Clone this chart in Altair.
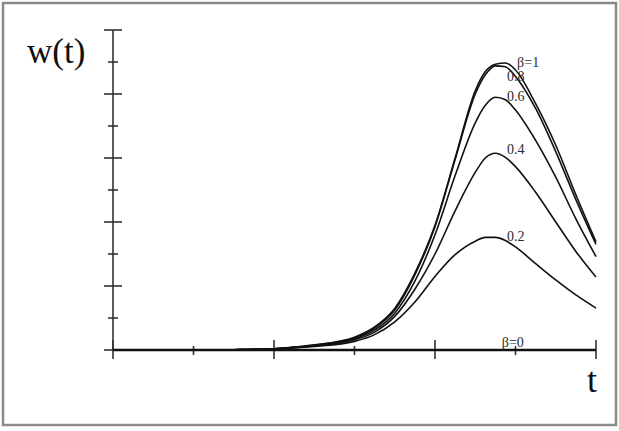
import altair as alt
import pandas as pd

# ---- data ----
t_vals = [0, 0.5, 1, 1.5, 2, 2.5, 3, 3.25, 3.5, 3.75, 4, 4.25, 4.5, 4.625, 4.75, 4.875, 5, 5.25, 5.5, 5.75, 6]
w_b10 = [0, 0, 0, 0.01, 0.04, 0.16, 0.40, 0.72, 1.30, 2.40, 3.90, 6.00, 8.10, 8.70, 8.93, 8.97, 8.75, 7.70, 6.40, 4.85, 3.38]
w_b08 = [0, 0, 0, 0.01, 0.04, 0.15, 0.38, 0.68, 1.25, 2.35, 3.85, 5.95, 8.00, 8.60, 8.88, 8.85, 8.55, 7.55, 6.20, 4.70, 3.30]
w_b06 = [0, 0, 0, 0.01, 0.04, 0.14, 0.35, 0.62, 1.15, 2.15, 3.60, 5.45, 7.10, 7.65, 7.90, 7.82, 7.50, 6.55, 5.40, 4.10, 2.92]
w_b04 = [0, 0, 0, 0.01, 0.04, 0.13, 0.32, 0.56, 1.05, 1.90, 3.00, 4.35, 5.55, 6.00, 6.15, 6.02, 5.73, 4.93, 4.00, 3.08, 2.28]
w_b02 = [0, 0, 0, 0.01, 0.03, 0.11, 0.27, 0.48, 0.88, 1.50, 2.30, 2.98, 3.40, 3.52, 3.52, 3.42, 3.22, 2.70, 2.19, 1.72, 1.31]
w_b00 = [0] * len(t_vals)

series = {"1": w_b10, "0.8": w_b08, "0.6": w_b06, "0.4": w_b04, "0.2": w_b02, "0": w_b00}

label_text = ["β=1", "0.8", "0.6", "0.4", "0.2", "β=0"]
label_t = [5.02, 4.894, 4.894, 4.894, 4.894, 4.83]
label_w = [8.97, 8.53, 7.90, 6.25, 3.53, 0.22]

y_major = [0, 2, 4, 6, 8, 10]
y_minor = [1, 3, 5, 7, 9]
x_major = [0, 2, 4, 6]
x_minor = [1, 3, 5]

rows = []
for b, ws in series.items():
    for t, w in zip(t_vals, ws):
        rows.append({"beta": b, "t": t, "w": w})
df = pd.DataFrame(rows)

xs = alt.Scale(domain=[0, 6])
ys = alt.Scale(domain=[0, 10])
X = lambda f: alt.X(f, scale=xs, axis=None)
Y = lambda f: alt.Y(f, scale=ys, axis=None)

ink = "#111111"
axis_col = "#333333"

frame = alt.Chart(pd.DataFrame({"a": [0]})).mark_rect(
    fill="transparent", stroke="#8a8a8a", strokeWidth=2.5
).encode(x=alt.value(-110), x2=alt.value(503), y=alt.value(-27), y2=alt.value(395))

yaxis = alt.Chart(pd.DataFrame({"t": [0], "w0": [0], "w1": [10]})).mark_rule(
    color=axis_col, strokeWidth=1.6
).encode(x=X("t:Q"), y=Y("w0:Q"), y2="w1:Q")

xaxis = alt.Chart(pd.DataFrame({"t0": [0], "t1": [6], "w": [0]})).mark_rule(
    color=ink, strokeWidth=2.4
).encode(x=X("t0:Q"), x2="t1:Q", y=Y("w:Q"))

ytm = alt.Chart(pd.DataFrame({"w": y_major})).mark_rule(color=axis_col, strokeWidth=1.6).encode(
    y=Y("w:Q"), x=alt.value(-9), x2=alt.value(9))
ytn = alt.Chart(pd.DataFrame({"w": y_minor})).mark_rule(color=axis_col, strokeWidth=1.6).encode(
    y=Y("w:Q"), x=alt.value(-5), x2=alt.value(5))
xtm = alt.Chart(pd.DataFrame({"t": x_major})).mark_rule(color=axis_col, strokeWidth=1.6).encode(
    x=X("t:Q"), y=alt.value(310), y2=alt.value(329))
xtn = alt.Chart(pd.DataFrame({"t": x_minor})).mark_rule(color=axis_col, strokeWidth=1.6).encode(
    x=X("t:Q"), y=alt.value(316), y2=alt.value(325))

lines = alt.Chart(df).mark_line(color=ink, strokeWidth=1.6, interpolate="monotone").encode(
    x=X("t:Q"), y=Y("w:Q"), detail="beta:N")

labels = alt.Chart(pd.DataFrame({"txt": label_text, "t": label_t, "w": label_w})).mark_text(
    align="left", baseline="middle", font="Liberation Serif", fontSize=14, color="#2a2a2a"
).encode(x=X("t:Q"), y=Y("w:Q"), text="txt:N")

ylab = alt.Chart(pd.DataFrame({"txt": ["w(t)"]})).mark_text(
    align="left", baseline="alphabetic", font="Liberation Serif", fontSize=35, color=ink
).encode(x=alt.value(-86), y=alt.value(33), text="txt:N")

xlab = alt.Chart(pd.DataFrame({"txt": ["t"]})).mark_text(
    align="center", baseline="alphabetic", font="Liberation Serif", fontSize=36, color=ink
).encode(x=alt.value(479), y=alt.value(362), text="txt:N")

chart = alt.layer(frame, yaxis, ytm, ytn, xtm, xtn, lines, xaxis, labels, ylab, xlab).properties(
    width=483, height=320,
    autosize=alt.AutoSizeParams(type="none"),
    padding={"left": 113, "top": 30, "right": 23, "bottom": 81},
    background="white",
).configure_view(stroke="transparent")

chart.save("out.html", embed_options={"renderer": "svg", "actions": False})
